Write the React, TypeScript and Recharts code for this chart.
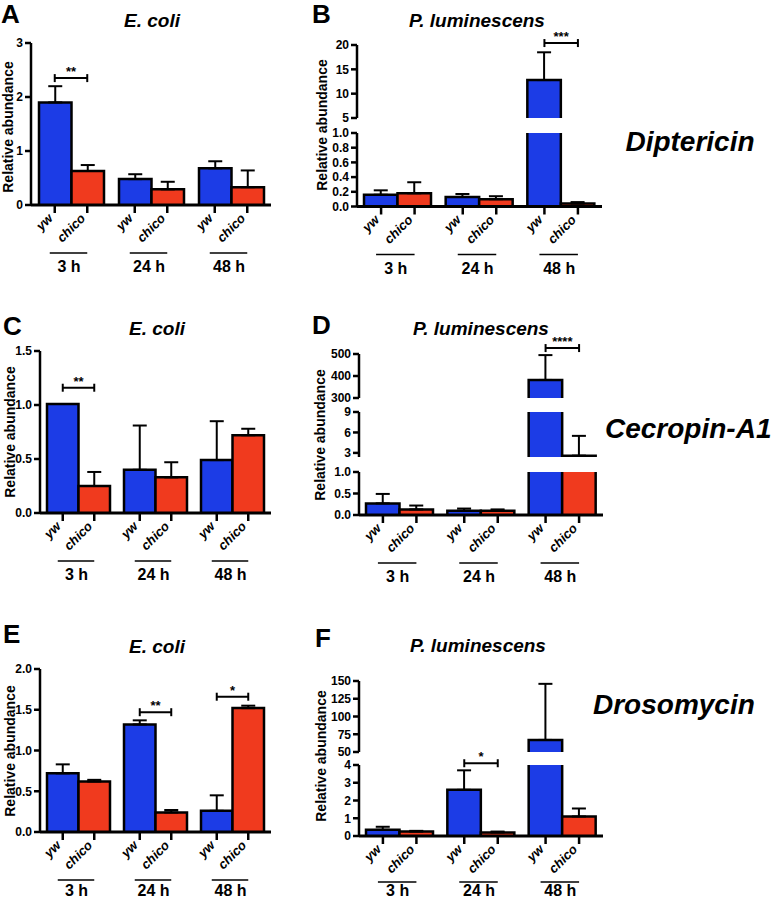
import React from "react";
import { ComposedChart, Bar, XAxis, YAxis, ErrorBar, ReferenceDot } from "recharts";

const FONT = '"Liberation Sans", Arial, Helvetica, sans-serif';
const BLUE = "#1c3ce6";
const RED = "#f03a1e";

const groups = ["3 h", "24 h", "48 h"];
const genotypes = ["yw", "chico"];

// A - Diptericin, E. coli
const aYw = [1.9, 0.48, 0.68];
const aYwSd = [0.3, 0.09, 0.13];
const aChico = [0.63, 0.29, 0.33];
const aChicoSd = [0.11, 0.14, 0.31];
const aSigGroup = ["3 h"];
const aSigY = [2.35];
const aSigLabel = ["**"];

// B - Diptericin, P. luminescens
const bYw = [0.16, 0.13, 12.8];
const bYwSd = [0.06, 0.04, 5.7];
const bChico = [0.18, 0.1, 0.04];
const bChicoSd = [0.15, 0.04, 0.02];
const bSigGroup = ["48 h"];
const bSigY = [20.4];
const bSigLabel = ["***"];

// C - Cecropin-A1, E. coli
const cYw = [1.01, 0.4, 0.49];
const cYwSd = [0, 0.41, 0.36];
const cChico = [0.25, 0.33, 0.72];
const cChicoSd = [0.13, 0.14, 0.06];
const cSigGroup = ["3 h"];
const cSigY = [1.16];
const cSigLabel = ["**"];

// D - Cecropin-A1, P. luminescens
const dYw = [0.27, 0.1, 382];
const dYwSd = [0.22, 0.05, 113];
const dChico = [0.13, 0.1, 2.6];
const dChicoSd = [0.09, 0.03, 2.9];
const dSigGroup = ["48 h"];
const dSigY = [527];
const dSigLabel = ["****"];

// E - Drosomycin, E. coli
const eYw = [0.72, 1.32, 0.26];
const eYwSd = [0.11, 0.05, 0.19];
const eChico = [0.62, 0.24, 1.52];
const eChicoSd = [0.02, 0.03, 0.03];
const eSigGroup = ["24 h", "48 h"];
const eSigY = [1.47, 1.66];
const eSigLabel = ["**", "*"];

// F - Drosomycin, P. luminescens
const fYw = [0.35, 2.6, 67];
const fYwSd = [0.17, 1.1, 79];
const fChico = [0.25, 0.2, 1.1];
const fChicoSd = [0.04, 0.05, 0.45];
const fSigGroup = ["24 h"];
const fSigY = [4.1];
const fSigLabel = ["*"];

const makeRows = (yw: number[], ywSd: number[], chico: number[], chicoSd: number[]) =>
  groups.map((g, i) => ({ g, yw: yw[i], ywSd: ywSd[i], chico: chico[i], chicoSd: chicoSd[i] }));

const makeSig = (gs: string[], ys: number[], labels: string[]) =>
  gs.map((g, i) => ({ g, y: ys[i], label: labels[i] }));

// keep only what belongs in one piece of a broken axis
const cut = (rows: any[], lo: number, hi: number) =>
  rows.map((r) => {
    const out: any = { g: r.g };
    for (const k of genotypes) {
      const v = r[k];
      const sd = r[k + "Sd"];
      out[k] = v > lo ? v : null;
      out[k + "Err"] = v > lo && v < hi && sd > 0 ? [0, sd] : null;
    }
    return out;
  });

const YW = 46;
const MT = 34;
const MR = 8;
const MB = 10;
const XH = 80;

function renderGroupTick(p: any, half: number, ul: number, lbl: number) {
  const { x, y, payload } = p;
  const xs = [x - half, x + half];
  return (
    <g>
      {xs.map((tx, i) => (
        <g key={i}>
          <line x1={tx} x2={tx} y1={y} y2={y + 8} stroke="#000" strokeWidth={2.5} />
          <text
            x={tx - 1}
            y={y + 14}
            transform={`rotate(-45 ${tx - 1} ${y + 14})`}
            textAnchor="end"
            fontSize={13}
            fontWeight={700}
            fontStyle="italic"
            fontFamily={FONT}
            fill="#000"
          >
            {genotypes[i]}
          </text>
        </g>
      ))}
      <line x1={x - half - 5} x2={x + half} y1={y + ul} y2={y + ul} stroke="#000" strokeWidth={1.5} />
      <text x={x - 2} y={y + lbl} textAnchor="middle" fontSize={16} fontWeight={700} fontFamily={FONT} fill="#000">
        {payload.value}
      </text>
    </g>
  );
}

// filled bar outlined on three sides, so a broken bar shows no edge at the break
function renderBar(p: any, color: string) {
  const { x, y, width, height } = p;
  if (x == null || y == null || !width || height == null || height <= 0) return <g />;
  return (
    <g>
      <rect x={x} y={y} width={width} height={height} fill={color} />
      <path
        d={`M${x},${y + height} V${y} H${x + width} V${y + height}`}
        fill="none"
        stroke="#000"
        strokeWidth={2.5}
      />
    </g>
  );
}

function renderBracket(p: any, half: number, label: string) {
  const { cx, cy } = p;
  if (cx == null || cy == null) return <g />;
  return (
    <g>
      <line x1={cx - half} x2={cx + half} y1={cy} y2={cy} stroke="#000" strokeWidth={2} />
      <line x1={cx - half} x2={cx - half} y1={cy - 4} y2={cy + 4} stroke="#000" strokeWidth={2} />
      <line x1={cx + half} x2={cx + half} y1={cy - 4} y2={cy + 4} stroke="#000" strokeWidth={2} />
      <text x={cx} y={cy - 2} textAnchor="middle" fontSize={13} fontWeight={700} fontFamily={FONT} fill="#000">
        {label}
      </text>
    </g>
  );
}

function Segment({ axisX, right, seg, rows, showX, sig, barSize, ul, lbl }: any) {
  const data = cut(rows, seg.lo, seg.hi);
  const plotH = seg.bottom - seg.top;
  const half = barSize / 2;
  return (
    <div style={{ position: "absolute", left: axisX - YW, top: seg.top - MT }}>
      <ComposedChart
        width={right - axisX + YW + MR}
        height={plotH + MT + (showX ? XH : MB)}
        data={data}
        margin={{ top: MT, right: MR, bottom: showX ? 0 : MB, left: 0 }}
        barGap={0}
      >
        <XAxis
          dataKey="g"
          hide={!showX}
          height={XH}
          interval={0}
          tickLine={false}
          tickSize={0}
          tickMargin={0}
          axisLine={{ stroke: "#000", strokeWidth: 3 }}
          tick={(p: any) => renderGroupTick(p, half, ul, lbl)}
        />
        <YAxis
          type="number"
          width={YW}
          domain={[seg.lo, seg.hi]}
          allowDataOverflow
          ticks={seg.ticks}
          interval={0}
          tickFormatter={seg.dec ? (v: number) => v.toFixed(1) : undefined}
          tickSize={6}
          tickMargin={2}
          axisLine={{ stroke: "#000", strokeWidth: 2.5 }}
          tickLine={{ stroke: "#000", strokeWidth: 2.5 }}
          tick={{ fill: "#000", fontSize: 12, fontWeight: 700, fontFamily: FONT }}
        />
        <Bar
          dataKey="yw"
          fill={BLUE}
          barSize={barSize}
          isAnimationActive={false}
          shape={(p: any) => renderBar(p, BLUE)}
        >
          <ErrorBar dataKey="ywErr" width={7} stroke="#000" strokeWidth={2} direction="y" />
        </Bar>
        <Bar
          dataKey="chico"
          fill={RED}
          barSize={barSize}
          isAnimationActive={false}
          shape={(p: any) => renderBar(p, RED)}
        >
          <ErrorBar dataKey="chicoErr" width={7} stroke="#000" strokeWidth={2} direction="y" />
        </Bar>
        {sig.map((s: any, i: number) => (
          <ReferenceDot
            key={i}
            x={s.g}
            y={s.y}
            r={0}
            ifOverflow="visible"
            shape={(p: any) => renderBracket(p, half, s.label)}
          />
        ))}
      </ComposedChart>
    </div>
  );
}

function Panel({ axisX, right, segs, rows, sig, barSize, ul = 48, lbl = 67 }: any) {
  return (
    <>
      {segs.map((s: any, i: number) => (
        <Segment
          key={i}
          axisX={axisX}
          right={right}
          seg={s}
          rows={rows}
          showX={i === segs.length - 1}
          sig={sig.filter((x: any) => segs.findIndex((sg: any) => sg.lo <= x.y) === i)}
          barSize={barSize}
          ul={ul}
          lbl={lbl}
        />
      ))}
    </>
  );
}

const yLabels = [
  { x: 13, y: 127 },
  { x: 327, y: 125 },
  { x: 15, y: 432 },
  { x: 325, y: 435 },
  { x: 15, y: 751 },
  { x: 326, y: 756 },
];

const titles = [
  { x: 152, y: 27, t: "E. coli" },
  { x: 477, y: 27, t: "P. luminescens" },
  { x: 157, y: 335, t: "E. coli" },
  { x: 481, y: 335, t: "P. luminescens" },
  { x: 157, y: 653, t: "E. coli" },
  { x: 478, y: 652, t: "P. luminescens" },
];

const letters = [
  { x: 1, y: 23, t: "A" },
  { x: 312, y: 23, t: "B" },
  { x: 3, y: 335, t: "C" },
  { x: 312, y: 334, t: "D" },
  { x: 3, y: 643, t: "E" },
  { x: 315, y: 647, t: "F" },
];

export default function App() {
  return (
    <div
      style={{
        position: "absolute",
        left: 0,
        top: 0,
        width: 778,
        height: 900,
        overflow: "hidden",
        background: "#fff",
        fontFamily: FONT,
      }}
    >
      <Panel
        axisX={31}
        right={271}
        barSize={32.5}
        rows={makeRows(aYw, aYwSd, aChico, aChicoSd)}
        sig={makeSig(aSigGroup, aSigY, aSigLabel)}
        segs={[{ lo: 0, hi: 3, top: 43, bottom: 205, ticks: [0, 1, 2, 3] }]}
      />
      <Panel
        axisX={357}
        right={602}
        barSize={33.5}
        rows={makeRows(bYw, bYwSd, bChico, bChicoSd)}
        sig={makeSig(bSigGroup, bSigY, bSigLabel)}
        segs={[
          { lo: 5, hi: 20, top: 45, bottom: 118, ticks: [5, 10, 15, 20] },
          { lo: 0, hi: 1, top: 133, bottom: 206.5, ticks: [0, 0.2, 0.4, 0.6, 0.8, 1], dec: true },
        ]}
      />
      <Panel
        axisX={40}
        right={271}
        barSize={31.5}
        rows={makeRows(cYw, cYwSd, cChico, cChicoSd)}
        sig={makeSig(cSigGroup, cSigY, cSigLabel)}
        segs={[{ lo: 0, hi: 1.5, top: 351, bottom: 513, ticks: [0, 0.5, 1, 1.5], dec: true }]}
      />
      <Panel
        axisX={359}
        right={603}
        barSize={33.5}
        rows={makeRows(dYw, dYwSd, dChico, dChicoSd)}
        sig={makeSig(dSigGroup, dSigY, dSigLabel)}
        segs={[
          { lo: 300, hi: 500, top: 354, bottom: 398, ticks: [300, 400, 500] },
          { lo: 2.4, hi: 9, top: 412, bottom: 457, ticks: [3, 6, 9] },
          { lo: 0, hi: 1, top: 472, bottom: 515, ticks: [0, 0.5, 1], dec: true },
        ]}
      />
      <Panel
        axisX={40}
        right={271}
        barSize={31.5}
        ul={48}
        lbl={64}
        rows={makeRows(eYw, eYwSd, eChico, eChicoSd)}
        sig={makeSig(eSigGroup, eSigY, eSigLabel)}
        segs={[{ lo: 0, hi: 2, top: 669, bottom: 832, ticks: [0, 0.5, 1, 1.5, 2], dec: true }]}
      />
      <Panel
        axisX={359}
        right={603}
        barSize={33.5}
        ul={46}
        lbl={60}
        rows={makeRows(fYw, fYwSd, fChico, fChicoSd)}
        sig={makeSig(fSigGroup, fSigY, fSigLabel)}
        segs={[
          { lo: 50, hi: 150, top: 681, bottom: 752, ticks: [50, 75, 100, 125, 150] },
          { lo: 0, hi: 4, top: 765, bottom: 836, ticks: [0, 1, 2, 3, 4] },
        ]}
      />
      <svg
        width={778}
        height={900}
        style={{ position: "absolute", left: 0, top: 0, pointerEvents: "none" }}
        fontFamily={FONT}
      >
        {letters.map((l) => (
          <text key={l.t} x={l.x} y={l.y} fontSize={26} fontWeight={700} fill="#000">
            {l.t}
          </text>
        ))}
        {titles.map((t, i) => (
          <text key={i} x={t.x} y={t.y} textAnchor="middle" fontSize={19} fontWeight={700} fontStyle="italic" fill="#000">
            {t.t}
          </text>
        ))}
        {yLabels.map((l, i) => (
          <text
            key={i}
            x={l.x}
            y={l.y}
            transform={`rotate(-90 ${l.x} ${l.y})`}
            textAnchor="middle"
            fontSize={14}
            fontWeight={700}
            fill="#000"
          >
            Relative abundance
          </text>
        ))}
        <text x={690} y={151} textAnchor="middle" fontSize={28} fontWeight={700} fontStyle="italic" fill="#000">
          Diptericin
        </text>
        <text x={605} y={438} fontSize={28} fontWeight={700} fontStyle="italic" fill="#000">
          Cecropin-A1
        </text>
        <text x={593} y={714} fontSize={28} fontWeight={700} fontStyle="italic" fill="#000">
          Drosomycin
        </text>
      </svg>
    </div>
  );
}
